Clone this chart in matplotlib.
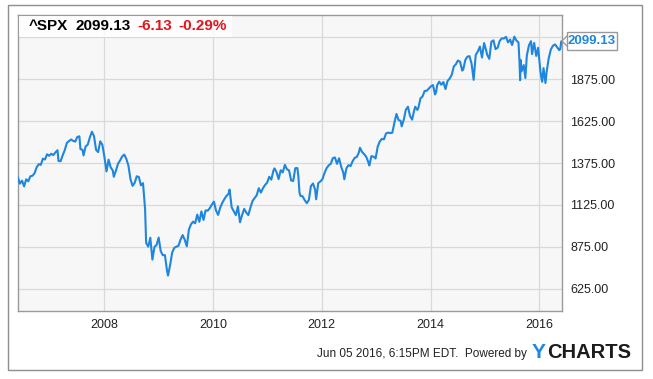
import matplotlib
matplotlib.use("Agg")
import matplotlib.pyplot as plt
from matplotlib.patches import Rectangle, Polygon
import pandas as pd

# S&P 500 (^SPX), roughly two readings a month
dates = [
    "2006-06-02", "2006-06-16", "2006-06-30", "2006-07-14", "2006-07-28", "2006-08-11", "2006-08-25",
    "2006-09-08", "2006-09-22", "2006-10-06", "2006-10-20", "2006-11-03", "2006-11-17", "2006-12-01",
    "2006-12-15", "2006-12-29",
    "2007-01-12", "2007-01-26", "2007-02-09", "2007-02-23", "2007-03-02", "2007-03-16", "2007-03-30",
    "2007-04-13", "2007-04-27", "2007-05-11", "2007-05-25", "2007-06-08", "2007-06-22", "2007-07-06",
    "2007-07-20", "2007-07-27", "2007-08-10", "2007-08-17", "2007-08-31", "2007-09-14", "2007-09-28",
    "2007-10-12", "2007-10-26", "2007-11-09", "2007-11-23", "2007-12-07", "2007-12-21",
    "2008-01-04", "2008-01-18", "2008-02-01", "2008-02-15", "2008-02-29", "2008-03-07", "2008-03-21",
    "2008-04-04", "2008-04-18", "2008-05-02", "2008-05-16", "2008-05-30", "2008-06-13", "2008-06-27",
    "2008-07-11", "2008-07-25", "2008-08-08", "2008-08-22", "2008-09-05", "2008-09-19", "2008-10-03",
    "2008-10-10", "2008-10-24", "2008-11-07", "2008-11-21", "2008-12-05", "2008-12-19",
    "2009-01-02", "2009-01-16", "2009-01-30", "2009-02-13", "2009-02-27", "2009-03-06", "2009-03-20",
    "2009-04-03", "2009-04-17", "2009-05-01", "2009-05-15", "2009-05-29", "2009-06-12", "2009-06-26",
    "2009-07-10", "2009-07-24", "2009-08-07", "2009-08-21", "2009-09-04", "2009-09-18", "2009-10-02",
    "2009-10-16", "2009-10-30", "2009-11-13", "2009-11-27", "2009-12-11", "2009-12-24",
    "2010-01-08", "2010-01-22", "2010-02-05", "2010-02-19", "2010-03-05", "2010-03-19", "2010-04-02",
    "2010-04-16", "2010-04-23", "2010-05-07", "2010-05-21", "2010-06-04", "2010-06-18", "2010-07-02",
    "2010-07-16", "2010-07-30", "2010-08-13", "2010-08-27", "2010-09-10", "2010-09-24", "2010-10-08",
    "2010-10-22", "2010-11-05", "2010-11-19", "2010-12-03", "2010-12-17", "2010-12-31",
    "2011-01-14", "2011-01-28", "2011-02-11", "2011-02-18", "2011-03-04", "2011-03-18", "2011-04-01",
    "2011-04-15", "2011-04-29", "2011-05-13", "2011-05-27", "2011-06-10", "2011-06-24", "2011-07-08",
    "2011-07-22", "2011-07-29", "2011-08-05", "2011-08-12", "2011-08-26", "2011-09-09", "2011-09-23",
    "2011-10-07", "2011-10-21", "2011-11-04", "2011-11-18", "2011-11-25", "2011-12-09", "2011-12-23",
    "2012-01-06", "2012-01-20", "2012-02-03", "2012-02-17", "2012-03-02", "2012-03-16", "2012-03-30",
    "2012-04-13", "2012-04-27", "2012-05-11", "2012-05-25", "2012-06-01", "2012-06-15", "2012-06-29",
    "2012-07-13", "2012-07-27", "2012-08-10", "2012-08-24", "2012-09-07", "2012-09-14", "2012-09-28",
    "2012-10-12", "2012-10-26", "2012-11-09", "2012-11-16", "2012-11-30", "2012-12-14", "2012-12-28",
    "2013-01-11", "2013-01-25", "2013-02-08", "2013-02-22", "2013-03-08", "2013-03-22", "2013-04-05",
    "2013-04-19", "2013-05-03", "2013-05-17", "2013-05-31", "2013-06-14", "2013-06-21", "2013-07-05",
    "2013-07-19", "2013-08-02", "2013-08-16", "2013-08-30", "2013-09-13", "2013-09-20", "2013-10-04",
    "2013-10-11", "2013-10-25", "2013-11-08", "2013-11-22", "2013-12-06", "2013-12-20",
    "2014-01-03", "2014-01-17", "2014-01-31", "2014-02-07", "2014-02-14", "2014-02-28", "2014-03-14",
    "2014-03-28", "2014-04-11", "2014-04-25", "2014-05-09", "2014-05-23", "2014-06-06", "2014-06-20",
    "2014-07-03", "2014-07-18", "2014-08-01", "2014-08-08", "2014-08-22", "2014-09-05", "2014-09-19",
    "2014-10-03", "2014-10-17", "2014-10-31", "2014-11-14", "2014-11-28", "2014-12-12", "2014-12-26",
    "2015-01-09", "2015-01-16", "2015-01-30", "2015-02-13", "2015-02-27", "2015-03-13", "2015-03-27",
    "2015-04-10", "2015-04-24", "2015-05-08", "2015-05-22", "2015-06-05", "2015-06-19", "2015-07-02",
    "2015-07-17", "2015-07-31", "2015-08-14", "2015-08-21", "2015-08-25", "2015-08-28", "2015-09-04",
    "2015-09-18", "2015-09-29", "2015-10-09", "2015-10-23", "2015-11-06", "2015-11-13", "2015-11-27",
    "2015-12-11", "2015-12-24",
    "2016-01-08", "2016-01-15", "2016-01-20", "2016-01-29", "2016-02-11", "2016-02-19", "2016-03-04",
    "2016-03-18", "2016-04-01", "2016-04-15", "2016-04-29", "2016-05-13", "2016-05-20", "2016-05-27",
    "2016-06-03",
]
closes = [
    1288, 1252, 1270, 1236, 1278, 1266, 1296, 1299, 1314, 1349, 1368, 1364, 1401, 1396, 1427, 1418,
    1430, 1422, 1438, 1451, 1387, 1386, 1421, 1452, 1495, 1505, 1515, 1507, 1502, 1530, 1534, 1458,
    1453, 1420, 1474, 1484, 1527, 1561, 1535, 1453, 1440, 1504, 1484,
    1411, 1325, 1395, 1349, 1331, 1293, 1329, 1370, 1390, 1414, 1425, 1400, 1360, 1278, 1239, 1257,
    1296, 1292, 1242, 1255, 1099, 899, 877, 930, 800, 876, 887,
    931, 850, 826, 827, 735, 705, 768, 843, 870, 877, 882, 919, 946, 918, 879, 979, 1010, 1026, 1016,
    1068, 1025, 1087, 1036, 1093, 1091, 1106, 1126,
    1145, 1092, 1066, 1109, 1138, 1160, 1179, 1192, 1217, 1111, 1088, 1065, 1117, 1022, 1065, 1102,
    1080, 1065, 1110, 1149, 1166, 1183, 1225, 1199, 1225, 1244, 1258,
    1293, 1276, 1329, 1343, 1321, 1279, 1332, 1319, 1364, 1338, 1331, 1271, 1268, 1344, 1345, 1292,
    1199, 1179, 1177, 1154, 1136, 1155, 1238, 1253, 1216, 1159, 1255, 1265,
    1278, 1315, 1344, 1361, 1370, 1404, 1408, 1370, 1403, 1353, 1318, 1278, 1343, 1362, 1357, 1386,
    1406, 1411, 1438, 1466, 1441, 1428, 1412, 1380, 1360, 1416, 1413, 1402,
    1472, 1503, 1518, 1516, 1551, 1556, 1553, 1555, 1614, 1667, 1631, 1626, 1593, 1632, 1692, 1710,
    1655, 1633, 1688, 1710, 1691, 1703, 1760, 1771, 1804, 1805, 1818,
    1831, 1839, 1783, 1797, 1838, 1859, 1841, 1857, 1815, 1863, 1878, 1900, 1950, 1963, 1985, 1978,
    1925, 1931, 1988, 2008, 2011, 1967, 1870, 2018, 2039, 2068, 2003, 2089,
    2045, 2019, 1995, 2097, 2105, 2053, 2061, 2102, 2117, 2116, 2126, 2093, 2110, 2077, 2127, 2104,
    2092, 1971, 1868, 1989, 1921, 1958, 1881, 2015, 2075, 2100, 2023, 2090, 2012, 2061,
    1922, 1880, 1859, 1940, 1851, 1918, 1999, 2050, 2073, 2081, 2065, 2047, 2052, 2099, 2099.13,
]

ytick_values = [625, 875, 1125, 1375, 1625, 1875, 2125]
xtick_years = [2008, 2010, 2012, 2014, 2016]

W, H = 653, 379
line_blue = "#1e86de"
red = "#e3141c"
font = ["Liberation Sans", "DejaVu Sans"]


def fx(px):
    return px / W


def fy(py):
    return 1 - py / H


fig = plt.figure(figsize=(W / 100, H / 100), dpi=100)

# outer frame
fig.patches.append(Rectangle((fx(8), fy(370)), fx(634), 365 / H, transform=fig.transFigure,
                             fill=False, edgecolor="#8e8e8e", linewidth=1.0, zorder=0))

ax = fig.add_axes([fx(18), fy(311), 544 / W, 296 / H])
ax.set_facecolor("#f7f7f7")
ax.plot(pd.to_datetime(dates), closes, color=line_blue, linewidth=1.5, zorder=3)

ax.set_xlim(pd.Timestamp("2006-06-03"), pd.Timestamp("2016-06-01"))
ax.set_ylim(494, 2256)

ax.set_yticks(ytick_values)
ax.set_yticklabels([f"{v:.2f}" if v < 2000 else "" for v in ytick_values], fontfamily=font,
                   fontsize=9, color="#222222")
ax.yaxis.tick_right()
ax.set_xticks([pd.Timestamp(f"{y}-01-01") for y in xtick_years])
ax.set_xticklabels([str(y) for y in xtick_years], fontfamily=font, fontsize=9, color="#222222")
ax.tick_params(axis="both", length=0)
ax.tick_params(axis="y", pad=6)
ax.tick_params(axis="x", pad=6)
ax.grid(True, color="#d9d9d9", linewidth=0.9, zorder=0)
ax.set_axisbelow(True)
for s in ax.spines.values():
    s.set_color("#9a9a9a")
    s.set_linewidth(1.0)

# ticker header box
fig.patches.append(Rectangle((fx(19), fy(37)), fx(213), 21 / H, transform=fig.transFigure,
                             facecolor="white", edgecolor="none", alpha=0.8, zorder=5))
hy = fy(26)
fig.text(fx(29), hy, "^SPX", fontsize=11, fontweight="bold", family=font, va="center", zorder=6)
fig.text(fx(76), hy, "2099.13", fontsize=11, fontweight="bold", family=font, va="center", zorder=6)
fig.text(fx(137), hy, "-6.13", fontsize=11, fontweight="bold", color=red, family=font,
         va="center", zorder=6)
fig.text(fx(178), hy, "-0.29%", fontsize=11, fontweight="bold", color=red, family=font,
         va="center", zorder=6)

# last value tag
fig.patches.append(Polygon([(fx(562), fy(41)), (fx(568), fy(35)), (fx(568), fy(47))],
                           closed=True, transform=fig.transFigure, facecolor="white",
                           edgecolor="#9a9a9a", linewidth=1.0, zorder=5))
fig.patches.append(Rectangle((fx(567), fy(50)), fx(50), 18 / H, transform=fig.transFigure,
                             facecolor="white", edgecolor="#9a9a9a", linewidth=1.0, zorder=5))
fig.text(fx(592), fy(41), "2099.13", fontsize=9.5, fontweight="bold", color=line_blue,
         family=font, ha="center", va="center", zorder=6)

# footer
fig.text(fx(527), fy(354), "Jun 05 2016, 6:15PM EDT.  Powered by", fontsize=8.5, family=font,
         color="#222222", ha="right", va="center")
fig.text(fx(546), fy(353), "Y", fontsize=15, fontweight="bold", family=font, color="#1e88e5",
         ha="right", va="center")
fig.text(fx(547), fy(353), "CHARTS", fontsize=14.5, fontweight="bold", family=font,
         color="#1b1b1b", ha="left", va="center")

fig.savefig("out.png", dpi=100)
